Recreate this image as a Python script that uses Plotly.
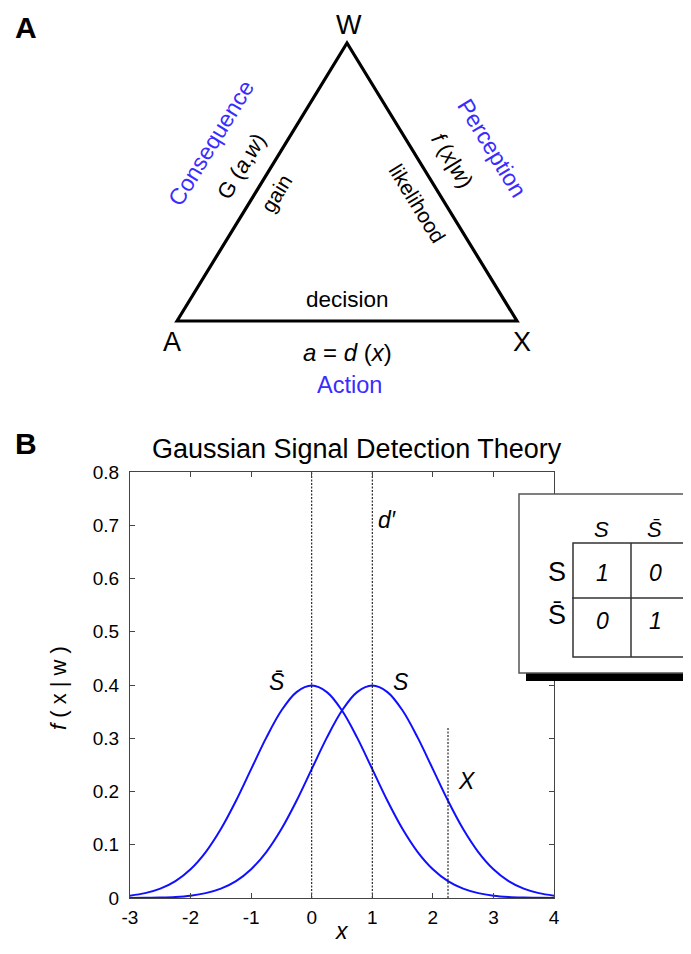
import plotly.graph_objects as go

# ---------------- data ----------------
x_vals = [-3.0, -2.75, -2.5, -2.25, -2.0, -1.75, -1.5, -1.25, -1.0, -0.75, -0.5, -0.25,
          0.0, 0.25, 0.5, 0.75, 1.0, 1.25, 1.5, 1.75, 2.0, 2.25, 2.5, 2.75, 3.0, 3.25,
          3.5, 3.75, 4.0]
noise_pdf = [0.0044, 0.0091, 0.0175, 0.0317, 0.0540, 0.0863, 0.1295, 0.1826, 0.2420,
             0.3011, 0.3521, 0.3867, 0.3989, 0.3867, 0.3521, 0.3011, 0.2420, 0.1826,
             0.1295, 0.0863, 0.0540, 0.0317, 0.0175, 0.0091, 0.0044, 0.0020, 0.0009,
             0.0004, 0.0001]
signal_pdf = [0.0001, 0.0004, 0.0009, 0.0020, 0.0044, 0.0091, 0.0175, 0.0317, 0.0540,
              0.0863, 0.1295, 0.1826, 0.2420, 0.3011, 0.3521, 0.3867, 0.3989, 0.3867,
              0.3521, 0.3011, 0.2420, 0.1826, 0.1295, 0.0863, 0.0540, 0.0317, 0.0175,
              0.0091, 0.0044]
means = [0.0, 1.0]
observation_x = 2.25
observation_top = 0.32
x_ticks = [-3, -2, -1, 0, 1, 2, 3, 4]
x_ticklabels = ["-3", "-2", "-1", "0", "1", "2", "3", "4"]
y_ticks = [0, 0.1, 0.2, 0.3, 0.4, 0.5, 0.6, 0.7, 0.8]
y_ticklabels = ["0", "0.1", "0.2", "0.3", "0.4", "0.5", "0.6", "0.7", "0.8"]
gain_matrix = [["1", "0"], ["0", "1"]]

FONT = "Liberation Sans, Arial, Helvetica, sans-serif"
BLUE_LINE = "#1010ff"
BLUE_TEXT = "#3a2cff"

# The page has an 8px body margin; the figure is sized to fit the window exactly.
OFF = 8
W, H = 691 - 2 * OFF, 954 - 2 * OFF


def fx(x):
    return (x - OFF) / W


def fy(y):
    return 1 - (y - OFF) / H


def P(x, y):
    return dict(x=fx(x), y=fy(y), xref="paper", yref="paper")


fig = go.Figure()

fig.add_trace(go.Scatter(x=x_vals, y=noise_pdf, mode="lines",
                         line=dict(color=BLUE_LINE, width=2, shape="spline"),
                         showlegend=False, hoverinfo="skip"))
fig.add_trace(go.Scatter(x=x_vals, y=signal_pdf, mode="lines",
                         line=dict(color=BLUE_LINE, width=2, shape="spline"),
                         showlegend=False, hoverinfo="skip"))
DASH = "2px,1.5px"
for m in means:
    fig.add_trace(go.Scatter(x=[m, m], y=[0, 0.8], mode="lines",
                             line=dict(color="black", width=1, dash=DASH),
                             showlegend=False, hoverinfo="skip"))
fig.add_trace(go.Scatter(x=[observation_x, observation_x], y=[0, observation_top], mode="lines",
                         line=dict(color="black", width=1, dash=DASH),
                         showlegend=False, hoverinfo="skip"))

# axes domain in reference pixels: x 130..554, y 472..898
xd = [fx(130), fx(554)]
yd = [fy(898), fy(472)]
axis_common = dict(showline=True, linecolor="#444", linewidth=1, mirror="ticks",
                   ticks="inside", ticklen=5, tickcolor="#444", showgrid=False,
                   zeroline=False, automargin=False,
                   tickfont=dict(family=FONT, size=19, color="black"))
fig.update_xaxes(range=[-3, 4], domain=xd, tickvals=x_ticks, ticktext=x_ticklabels,
                 ticklabelstandoff=2, **axis_common)
fig.update_yaxes(range=[0, 0.8], domain=yd, tickvals=y_ticks, ticktext=y_ticklabels,
                 ticklabelstandoff=6, **axis_common)

shapes = []
# Panel A triangle
ax_, ay_ = 177, 321
wx_, wy_ = 347, 43
xx_, xy_ = 517, 321


def pp(x, y):
    return f"{fx(x):.5f} {fy(y):.5f}"


shapes.append(dict(type="path", xref="paper", yref="paper",
                   path=f"M {pp(ax_, ay_)} L {pp(wx_, wy_)} L {pp(xx_, xy_)} Z",
                   line=dict(color="black", width=3.2), layer="above"))

# Inset (gain table)
shapes.append(dict(type="rect", xref="paper", yref="paper",
                   x0=fx(526), x1=fx(700), y0=fy(681), y1=fy(673),
                   fillcolor="black", line=dict(width=0), layer="above"))
shapes.append(dict(type="rect", xref="paper", yref="paper",
                   x0=fx(519), x1=fx(700), y0=fy(673), y1=fy(494),
                   fillcolor="white", line=dict(color="#555", width=1.5), layer="above"))
shapes.append(dict(type="rect", xref="paper", yref="paper",
                   x0=fx(573), x1=fx(684), y0=fy(657), y1=fy(543),
                   fillcolor="rgba(0,0,0,0)", line=dict(color="#333", width=1.5), layer="above"))
shapes.append(dict(type="line", xref="paper", yref="paper",
                   x0=fx(631), x1=fx(631), y0=fy(657), y1=fy(543),
                   line=dict(color="#333", width=1.5), layer="above"))
shapes.append(dict(type="line", xref="paper", yref="paper",
                   x0=fx(572), x1=fx(684), y0=fy(598), y1=fy(598),
                   line=dict(color="#333", width=1.5), layer="above"))

ann = []


def text(x, y, t, size=20, color="black", angle=0, italic=False, bold=False, yanchor="middle"):
    s = t
    if italic:
        s = f"<i>{s}</i>"
    if bold:
        s = f"<b>{s}</b>"
    d = P(x, y)
    d.update(text=s, showarrow=False, textangle=angle, xanchor="center", yanchor=yanchor,
             font=dict(family=FONT, size=size, color=color))
    ann.append(d)


# Panel labels
text(26, 27, "A", size=30, bold=True)
text(26, 443, "B", size=30, bold=True)

# Panel A texts
text(349, OFF, "W", size=27, yanchor="top")
text(172, 342, "A", size=27)
text(522, 342, "X", size=27)
text(348, 299, "decision", size=22.5)
text(347, 352, "<i>a</i> = <i>d</i> (<i>x</i>)", size=24)
text(349, 385, "Action", size=23.5, color=BLUE_TEXT)
ang = 58.6
text(211, 143, "Consequence", size=23, color=BLUE_TEXT, angle=-ang)
text(241, 166, "G (<i>a</i>,<i>w</i>)", size=22, angle=-ang)
text(276, 193, "gain", size=21, angle=-ang)
text(417, 204, "likelihood", size=21, angle=ang)
text(452, 161, "<i>f</i> (<i>x</i>|<i>w</i>)", size=22, angle=ang)
text(492, 148, "Perception", size=23, color=BLUE_TEXT, angle=ang)

# Panel B title and axis titles
text(357, 449, "Gaussian Signal Detection Theory", size=27)
text(58, 688, "<i>f</i> ( x | w )", size=22, angle=-90)
text(342, 954 - OFF, "x", size=23, italic=True, yanchor="bottom")


# curve labels (data coords)
def dtext(x, y, t, size=23):
    ann.append(dict(x=x, y=y, xref="x", yref="y", text=t, showarrow=False,
                    xanchor="center", yanchor="middle",
                    font=dict(family=FONT, size=size, color="black")))


dtext(-0.58, 0.405, "<i>S\u0304</i>")
dtext(1.47, 0.405, "<i>S</i>")
dtext(2.57, 0.22, "<i>X</i>")
dtext(1.24, 0.709, "<i>d\u2032</i>")

# inset texts
text(601, 529, "S", size=22, italic=True)
text(654, 529, "S\u0304", size=22, italic=True)
text(557, 572, "S", size=27)
text(557, 615, "S\u0304", size=27)
cell_x = [602, 655]
cell_y = [573, 621]
for i in range(2):
    for j in range(2):
        text(cell_x[j], cell_y[i], gain_matrix[i][j], size=23, italic=True)

fig.update_layout(template="none", width=W, height=H, autosize=False,
                  margin=dict(l=0, r=0, t=0, b=0, pad=0),
                  paper_bgcolor="white", plot_bgcolor="white",
                  shapes=shapes, annotations=ann, showlegend=False)

fig.write_html("out.html")
